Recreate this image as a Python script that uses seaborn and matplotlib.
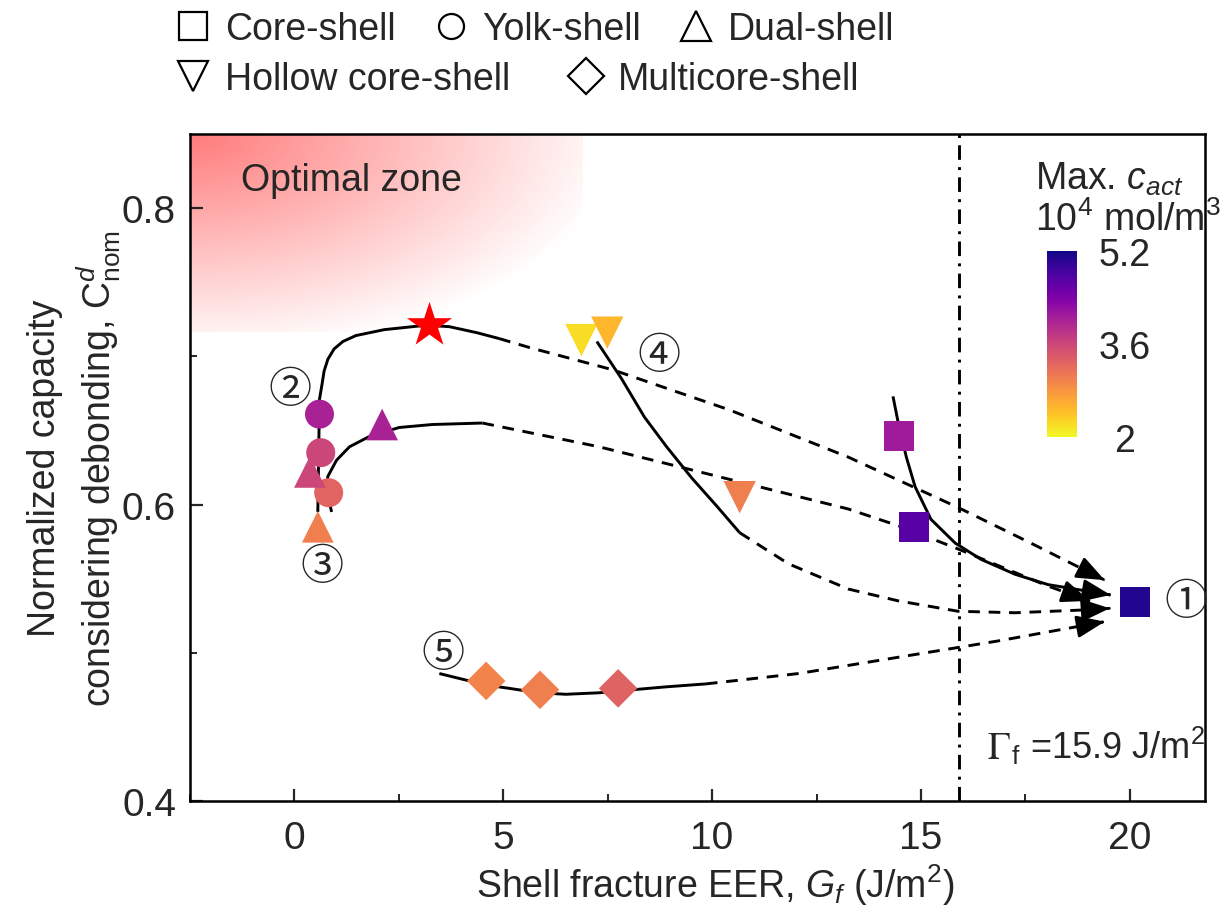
import numpy as np
import pandas as pd
import matplotlib
matplotlib.use("Agg")
import matplotlib.pyplot as plt
import seaborn as sns
from matplotlib.lines import Line2D
from matplotlib.colors import Normalize
import matplotlib.cm as cm

sns.set_theme(style="ticks")
plt.rcParams["font.family"] = ["Liberation Sans", "DejaVu Sans"]
plt.rcParams["mathtext.fontset"] = "custom"
plt.rcParams["mathtext.rm"] = "Liberation Sans"
plt.rcParams["mathtext.it"] = "Liberation Sans:italic"
plt.rcParams["mathtext.bf"] = "Liberation Sans:bold"

# ---- particle designs: shell fracture EER, normalized capacity, max c_act (1e4 mol/m3)
core_x = [20.12, 14.48, 14.84]
core_y = [0.534, 0.646, 0.585]
core_c = [5.1, 4.1, 4.7]

yolk_x = [0.60, 0.63, 0.82]
yolk_y = [0.661, 0.635, 0.608]
yolk_c = [4.0, 3.6, 3.28]

dual_x = [2.10, 0.37, 0.56]
dual_y = [0.654, 0.622, 0.585]
dual_c = [4.0, 3.6, 3.0]

hollow_x = [6.87, 7.49, 10.66]
hollow_y = [0.711, 0.716, 0.605]
hollow_c = [2.2, 2.5, 3.0]

multi_x = [4.59, 5.88, 7.75]
multi_y = [0.481, 0.475, 0.476]
multi_c = [2.95, 3.0, 3.3]

best_x = [3.23]
best_y = [0.721]

# ---- design trajectories (solid: explored, dashed: trend towards core-shell)
c1_solid_x = [14.33, 14.45, 14.65, 14.86, 15.24, 15.82, 16.44, 17.25, 18.04, 19.54]
c1_solid_y = [0.673, 0.656, 0.632, 0.612, 0.590, 0.574, 0.563, 0.553, 0.546, 0.539]

c2_solid_x = [0.56, 0.60, 0.66, 0.71, 0.80, 0.95, 1.16, 1.47, 2.15, 3.16, 3.71, 4.36, 4.90]
c2_solid_y = [0.595, 0.671, 0.681, 0.690, 0.698, 0.705, 0.710, 0.714, 0.718, 0.721, 0.720,
              0.716, 0.712]
c2_dash_x = [4.90, 5.62, 7.61, 10.40, 13.26, 15.89, 17.63, 19.40]
c2_dash_y = [0.712, 0.706, 0.691, 0.664, 0.632, 0.598, 0.574, 0.549]

c3_solid_x = [0.89, 0.77, 0.80, 1.01, 1.32, 1.80, 2.51, 3.30, 4.50]
c3_solid_y = [0.595, 0.610, 0.619, 0.630, 0.639, 0.646, 0.652, 0.654, 0.655]
c3_dash_x = [4.50, 7.29, 13.26, 14.53, 15.89, 18.04, 19.04]
c3_dash_y = [0.655, 0.639, 0.597, 0.585, 0.570, 0.545, 0.535]

c4_solid_x = [7.24, 7.83, 8.38, 8.91, 9.51, 10.11, 10.66]
c4_solid_y = [0.710, 0.685, 0.659, 0.639, 0.618, 0.599, 0.581]
c4_dash_x = [10.66, 11.83, 13.26, 14.46, 15.89, 17.25, 19.00, 19.52]
c4_dash_y = [0.581, 0.560, 0.543, 0.535, 0.528, 0.527, 0.529, 0.530]

c5_solid_x = [3.47, 4.19, 4.90, 5.86, 6.50, 7.29, 8.08, 8.89, 9.85]
c5_solid_y = [0.486, 0.481, 0.477, 0.473, 0.472, 0.473, 0.475, 0.477, 0.479]
c5_dash_x = [9.85, 12.07, 14.46, 16.85, 19.40]
c5_dash_y = [0.479, 0.486, 0.497, 0.508, 0.521]

# path labels
path_names = ["①", "②", "③", "④", "⑤"]
path_x = [21.34, -0.11, 0.66, 8.72, 3.56]
path_y = [0.534, 0.677, 0.558, 0.700, 0.499]

gamma_f = 15.9
cbar_ticks = [2, 3.6, 5.2]
c_min, c_max = 2.0, 5.2

FS = 27
LABEL_FS = 27
cmap = plt.get_cmap("plasma_r")
norm = Normalize(c_min, c_max)

fig = plt.figure(figsize=(12.23, 9.12), dpi=100)
ax = fig.add_axes([190 / 1223, 1 - 802 / 912, (1205 - 190) / 1223, (802 - 135) / 912])
ax.set_xlim(-2.5, 21.8)
ax.set_ylim(0.4, 0.85)

# optimal zone: red haze fading away from the top-left corner
zx0, zx1, zy0, zy1 = -2.5, 6.9, 0.7165, 0.85
u = np.linspace(0, 1, 300)[None, :]
v = np.linspace(0, 1, 200)[:, None]
d = np.sqrt((u / 1.1) ** 2 + (v / 1.12) ** 2)
alpha = np.clip(0.52 * (1 - d), 0, 1)
rgba = np.zeros((200, 300, 4))
rgba[..., 0] = 1.0
rgba[..., 3] = alpha
ax.imshow(rgba, extent=(zx0, zx1, zy0, zy1), origin="upper", aspect="auto",
          interpolation="bilinear", zorder=0)
ax.text(-1.28, 0.819, "Optimal zone", fontsize=FS, va="center", ha="left", zorder=1)

# critical interface toughness
ax.axvline(gamma_f, color="black", lw=2.1, ls=(0, (5, 2.5, 1, 2.5)), zorder=1)

LW = 2.1
DASH = (0, (4, 3))


def arrow_to_tip(xs, ys):
    tx, ty = xs[-1], ys[-1]
    dx, dy = tx - xs[-2], ty - ys[-2]
    ax.annotate("", xy=(tx, ty), xytext=(tx - 0.02 * dx, ty - 0.02 * dy),
                arrowprops=dict(arrowstyle="-|>,head_length=1.0,head_width=0.4",
                                mutation_scale=17, color="black", lw=LW,
                                shrinkA=0, shrinkB=0), zorder=2)


for xs, ys in [(c2_solid_x, c2_solid_y), (c3_solid_x, c3_solid_y),
               (c4_solid_x, c4_solid_y), (c5_solid_x, c5_solid_y)]:
    sns.lineplot(x=xs, y=ys, sort=False, estimator=None, color="black", lw=LW, ax=ax, zorder=2)
for xs, ys in [(c2_dash_x, c2_dash_y), (c3_dash_x, c3_dash_y),
               (c4_dash_x, c4_dash_y), (c5_dash_x, c5_dash_y)]:
    sns.lineplot(x=xs, y=ys, sort=False, estimator=None, color="black", lw=LW,
                 ls=DASH, ax=ax, zorder=2)
    arrow_to_tip(xs, ys)
sns.lineplot(x=c1_solid_x, y=c1_solid_y, sort=False, estimator=None, color="black",
             lw=LW, ax=ax, zorder=2)
arrow_to_tip(c1_solid_x, c1_solid_y)
for ln in ax.lines:
    ln.set_solid_joinstyle("round")
    ln.set_solid_capstyle("butt")

# particle designs coloured by max c_act
groups = [
    ("Core-shell", core_x, core_y, core_c, "s", 467),
    ("Yolk-shell", yolk_x, yolk_y, yolk_c, "o", 436),
    ("Dual-shell", dual_x, dual_y, dual_c, "^", 520),
    ("Hollow core-shell", hollow_x, hollow_y, hollow_c, "v", 540),
    ("Multicore-shell", multi_x, multi_y, multi_c, "D", 385),
]
for name, xs, ys, cs, mk, size in groups:
    df = pd.DataFrame({"G": xs, "C": ys, "c": cs})
    sns.scatterplot(data=df, x="G", y="C", hue="c", hue_norm=norm, palette="plasma_r",
                    marker=mk, s=size, linewidth=0, legend=False, ax=ax, zorder=3)
sns.scatterplot(x=best_x, y=best_y, marker="*", s=1160, color="#ff0000", linewidth=0,
                legend=False, ax=ax, zorder=4)

for name, px, py in zip(path_names, path_x, path_y):
    ax.text(px, py, name, fontsize=31, ha="center", va="center",
            family=["Noto Sans CJK JP", "DejaVu Sans"], zorder=4)

t_g = ax.text(16.58, 0.436, r"$\Gamma$", fontsize=FS, ha="left", va="center",
              math_fontfamily="stix")
t_f = ax.annotate(r"$_\mathrm{f}$", xy=(1, 0.5), xycoords=t_g, fontsize=FS,
                  ha="left", va="center")
ax.annotate(r" =15.9 J/m$^2$", xy=(1, 0.5), xycoords=t_f, fontsize=FS - 1,
            ha="left", va="center")

# axes styling
ax.set_xticks([0, 5, 10, 15, 20])
ax.set_xticks(np.arange(-2.5, 22, 2.5), minor=True)
ax.set_yticks([0.4, 0.6, 0.8])
ax.set_yticks([0.5, 0.7], minor=True)
ax.set_yticklabels(["0.4", "0.6", "0.8"])
ax.tick_params(axis="both", which="major", direction="in", length=9, width=1.6,
               labelsize=FS + 1, top=False, right=False)
ax.tick_params(axis="both", which="minor", direction="in", length=5, width=1.4,
               top=False, right=False)
ax.tick_params(axis="x", which="major", pad=14)
ax.tick_params(axis="y", which="major", pad=10)
for sp in ax.spines.values():
    sp.set_linewidth(1.8)
    sp.set_color("black")
    sp.set_visible(True)

ax.set_xlabel(r"Shell fracture EER, $G_f$ (J/m$^2$)", fontsize=LABEL_FS)
ax.xaxis.set_label_coords(0.517, -0.09)
ax.set_ylabel("Normalized capacity\n" + r"considering debonding, $\mathrm{C}^{d}_{\mathrm{nom}}$",
              fontsize=LABEL_FS, linespacing=1.3)
ax.yaxis.set_label_coords(-0.066, 0.5)

# colour bar
cax = fig.add_axes([1047 / 1223, 1 - 438 / 912, 30 / 1223, 186 / 912])
cb = fig.colorbar(cm.ScalarMappable(norm=norm, cmap=cmap), cax=cax)
cb.outline.set_visible(False)
cb.set_ticks(cbar_ticks)
cb.set_ticklabels(["2", "3.6", "5.2"])
cax.tick_params(length=0, labelsize=FS, pad=34)
for lab in cax.get_yticklabels():
    lab.set_horizontalalignment("center")
fig.text(1035 / 1223, 1 - 190 / 912, r"Max. $c_{act}$", fontsize=FS, ha="left", va="baseline")
fig.text(1035 / 1223, 1 - 231 / 912, r"10$^4$ mol/m$^3$", fontsize=FS, ha="left", va="baseline")


# shape legend
def handle(mk, ms):
    return Line2D([], [], marker=mk, ls="none", mfc="white", mec="black", mew=1.6, ms=ms)


row1 = [handle("s", 20), handle("o", 18), handle("^", 22)]
row2 = [handle("v", 22), handle("D", 18)]
leg_kw = dict(frameon=False, fontsize=FS, handlelength=0.8, handletextpad=0.45,
              borderpad=0, borderaxespad=0, loc="center left")
fig.legend(row1, ["Core-shell", "Yolk-shell", "Dual-shell"], ncol=3, columnspacing=1.07,
           bbox_to_anchor=(178 / 1223, 1 - 30 / 912), **leg_kw)
fig.legend(row2, ["Hollow core-shell", "Multicore-shell"], ncol=2, columnspacing=1.63,
           bbox_to_anchor=(178 / 1223, 1 - 80 / 912), **leg_kw)

fig.savefig("out.png", dpi=100)
